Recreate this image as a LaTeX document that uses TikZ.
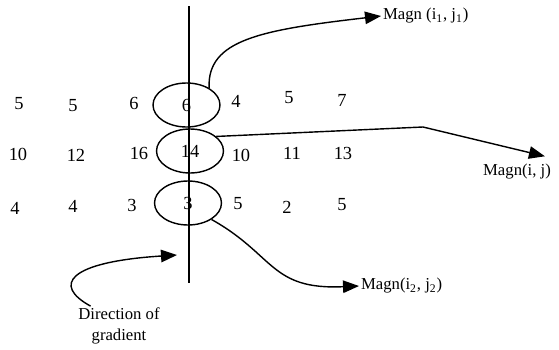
\documentclass[tikz,border=0pt]{standalone}
\usepackage{fontspec}
\setmainfont{Liberation Serif}
\usepackage{tikz}
\usetikzlibrary{arrows.meta,positioning,shapes.geometric}
\tikzset{
  num/.style={font=\fontsize{10.5}{12}\selectfont, inner sep=0pt},
  lab/.style={font=\fontsize{9.5}{11.5}\selectfont, inner sep=1pt},
  ring/.style={draw, ellipse, line width=0.8pt, minimum width=1.34cm, minimum height=0.88cm, inner sep=0pt, font=\fontsize{10.5}{12}\selectfont},
  link/.style={line width=0.8pt, -{Triangle[length=3.2mm,width=2.5mm]}}
}
\begin{document}
\begin{tikzpicture}[x=0.02cm, y=-0.02cm]
  \useasboundingbox (0,0) rectangle (559,349);
  % the line along the edge
  \coordinate (ltop) at (189,6);
  \coordinate (lbot) at (189,283);
  \draw[line width=0.8pt] (ltop) -- (lbot);
  % magnitudes around the edge pixels
  \foreach \v/\x/\y [count=\k] in {5/19/104, 5/73/106, 6/134/103, 4/236/101, 5/289/98, 7/342/100,
      10/18/154, 12/76/155, 16/139/153, 10/241/155, 11/292/153, 13/343/153,
      4/15/208, 4/73/206, 3/132/205, 5/238/204, 2/287/207, 5/342/205}
    \node[num] (n\k) at (\x,\y) {\v};
  \node[ring] (e1) at (186.5,105) {6};
  \node[ring] (e2) at (190,151) {14};
  \node[ring] (e3) at (188,203) {3};
  % labels
  \node[lab, anchor=west] (m1) at (381,16) {Magn (i\textsubscript{1}, j\textsubscript{1})};
  \node[lab] (m) at (517,172) {Magn(i, j)};
  \node[lab, anchor=west] (m2) at (359,286) {Magn(i\textsubscript{2}, j\textsubscript{2})};
  \node[lab, align=center] (dir) at (119,326) {Direction of\\gradient};
  \coordinate (gtip) at (177,255);
  \coordinate (bend) at (423,127);
  % arrows
  \draw[link] (e1.37) .. controls (207,40) and (260,30) .. (m1.west);
  \draw[link] (e2.29) -- (bend) -- ([shift={(-8,-6)}]m.north east);
  \draw[link] (e3.-35) .. controls (275,255) and (270,290) .. (m2.west);
  \draw[link] (dir.145) .. controls (52,285) and (68,262) .. (gtip);
\end{tikzpicture}
\end{document}
